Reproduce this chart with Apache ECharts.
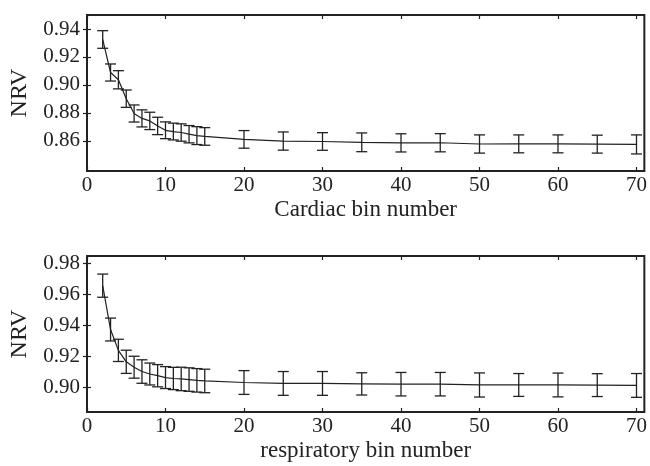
<!DOCTYPE html>
<html>
<head>
<meta charset="utf-8">
<script src="https://cdn.jsdelivr.net/npm/echarts@6/dist/echarts.min.js"></script>
<style>
  html, body { margin: 0; padding: 0; background: #fff; }
  #chart { width: 650px; height: 466px; }
</style>
</head>
<body>
<div id="chart"></div>
<script>
// bin numbers (same for both panels)
var bins = [2, 3, 4, 5, 6, 7, 8, 9, 10, 11, 12, 13, 14, 15, 20, 25, 30, 35, 40, 45, 50, 55, 60, 65, 70];

// cardiac panel: mean NRV and half error bar
var cardiacNRV = [0.9325, 0.9089, 0.9037, 0.8902, 0.8796, 0.8761, 0.8743, 0.8707, 0.8676, 0.8667, 0.8660, 0.8648, 0.8638, 0.8632,
                  0.8611, 0.8599, 0.8596, 0.8590, 0.8586, 0.8587, 0.8578, 0.8579, 0.8579, 0.8577, 0.8575];
var cardiacErr = [0.0063, 0.0061, 0.0065, 0.0062, 0.0061, 0.0061, 0.0062, 0.0062, 0.0060, 0.0060, 0.0062, 0.0062, 0.0064, 0.0063,
                  0.0063, 0.0065, 0.0063, 0.0067, 0.0065, 0.0065, 0.0065, 0.0064, 0.0064, 0.0064, 0.0068];

// respiratory panel
var respNRV = [0.9658, 0.9374, 0.9239, 0.9165, 0.9130, 0.9102, 0.9086, 0.9075, 0.9063, 0.9057, 0.9054, 0.9050, 0.9045, 0.9041,
               0.9031, 0.9025, 0.9025, 0.9022, 0.9020, 0.9020, 0.9015, 0.9015, 0.9015, 0.9014, 0.9012];
var respErr = [0.0075, 0.0074, 0.0072, 0.0075, 0.0071, 0.0076, 0.0071, 0.0072, 0.0071, 0.0072, 0.0076, 0.0076, 0.0076, 0.0076,
               0.0077, 0.0077, 0.0077, 0.0072, 0.0076, 0.0076, 0.0078, 0.0074, 0.0077, 0.0074, 0.0077];

// tick labels
var xTicks = [0, 10, 20, 30, 40, 50, 60, 70];
var cardiacTicks = [0.86, 0.88, 0.90, 0.92, 0.94];
var respTicks = [0.90, 0.92, 0.94, 0.96, 0.98];

var ink = '#222';
var serif = 'Liberation Serif';

function pairs(xs, ys) {
    var out = [];
    for (var i = 0; i < xs.length; i++) out.push([xs[i], ys[i]]);
    return out;
}
function errData(xs, ys, es) {
    var out = [];
    for (var i = 0; i < xs.length; i++) out.push([xs[i], ys[i] - es[i], ys[i] + es[i]]);
    return out;
}
// vertical bar with two caps
function renderErr(params, api) {
    var lo = api.coord([api.value(0), api.value(1)]);
    var hi = api.coord([api.value(0), api.value(2)]);
    var w = 5.5;
    var style = { stroke: ink, lineWidth: 1.3 };
    return {
        type: 'group',
        children: [
            { type: 'line', shape: { x1: lo[0], y1: lo[1], x2: hi[0], y2: hi[1] }, style: style },
            { type: 'line', shape: { x1: lo[0] - w, y1: lo[1], x2: lo[0] + w, y2: lo[1] }, style: style },
            { type: 'line', shape: { x1: hi[0] - w, y1: hi[1], x2: hi[0] + w, y2: hi[1] }, style: style }
        ]
    };
}

function xAxisMain(gridIndex, name) {
    return {
        type: 'value', gridIndex: gridIndex, min: 0, max: 71,
        name: name, nameLocation: 'middle', nameGap: 27,
        nameTextStyle: { fontFamily: serif, fontSize: 23, color: ink },
        axisLine: { show: false },
        axisTick: { show: true, inside: true, length: 4, customValues: xTicks, lineStyle: { color: ink, width: 1.2 } },
        axisLabel: { customValues: xTicks, margin: 4, fontFamily: serif, fontSize: 21, color: ink },
        splitLine: { show: false }
    };
}
function xAxisTop(gridIndex) {
    return {
        type: 'value', gridIndex: gridIndex, min: 0, max: 71, position: 'top',
        axisLine: { show: false },
        axisTick: { show: true, inside: true, length: 4, customValues: xTicks, lineStyle: { color: ink, width: 1.2 } },
        axisLabel: { show: false },
        splitLine: { show: false }
    };
}
function yAxisMain(gridIndex, min, max, ticks) {
    return {
        type: 'value', gridIndex: gridIndex, min: min, max: max,
        name: 'NRV', nameLocation: 'middle', nameGap: 55,
        nameTextStyle: { fontFamily: serif, fontSize: 24, color: ink },
        axisLine: { show: false },
        axisTick: { show: true, inside: true, length: 4, customValues: ticks, lineStyle: { color: ink, width: 1.2 } },
        axisLabel: {
            customValues: ticks, margin: 7, fontFamily: serif, fontSize: 21, color: ink,
            formatter: function (v) { return v.toFixed(2); }
        },
        splitLine: { show: false }
    };
}
function yAxisRight(gridIndex, min, max, ticks) {
    return {
        type: 'value', gridIndex: gridIndex, min: min, max: max, position: 'right',
        axisLine: { show: false },
        axisTick: { show: true, inside: true, length: 4, customValues: ticks, lineStyle: { color: ink, width: 1.2 } },
        axisLabel: { show: false },
        splitLine: { show: false }
    };
}

var myChart = echarts.init(document.getElementById('chart'), null, { renderer: 'canvas' });
var option = {
    backgroundColor: '#fff',
    animation: false,
    grid: [
        { left: 87, right: 5, top: 15, height: 156, show: true, borderColor: ink, borderWidth: 2, backgroundColor: 'transparent' },
        { left: 87, right: 5, top: 256, height: 156, show: true, borderColor: ink, borderWidth: 2, backgroundColor: 'transparent' }
    ],
    xAxis: [
        xAxisMain(0, 'Cardiac bin number'),
        xAxisTop(0),
        xAxisMain(1, 'respiratory bin number'),
        xAxisTop(1)
    ],
    yAxis: [
        yAxisMain(0, 0.8385, 0.95, cardiacTicks),
        yAxisRight(0, 0.8385, 0.95, cardiacTicks),
        yAxisMain(1, 0.884, 0.985, respTicks),
        yAxisRight(1, 0.884, 0.985, respTicks)
    ],
    series: [
        {
            type: 'line', xAxisIndex: 0, yAxisIndex: 0, data: pairs(bins, cardiacNRV),
            showSymbol: false, lineStyle: { color: ink, width: 1.2 }
        },
        {
            type: 'custom', xAxisIndex: 0, yAxisIndex: 0, data: errData(bins, cardiacNRV, cardiacErr),
            renderItem: renderErr, encode: { x: 0, y: [1, 2] }
        },
        {
            type: 'line', xAxisIndex: 2, yAxisIndex: 2, data: pairs(bins, respNRV),
            showSymbol: false, lineStyle: { color: ink, width: 1.2 }
        },
        {
            type: 'custom', xAxisIndex: 2, yAxisIndex: 2, data: errData(bins, respNRV, respErr),
            renderItem: renderErr, encode: { x: 0, y: [1, 2] }
        }
    ]
};
myChart.setOption(option);
</script>
</body>
</html>
